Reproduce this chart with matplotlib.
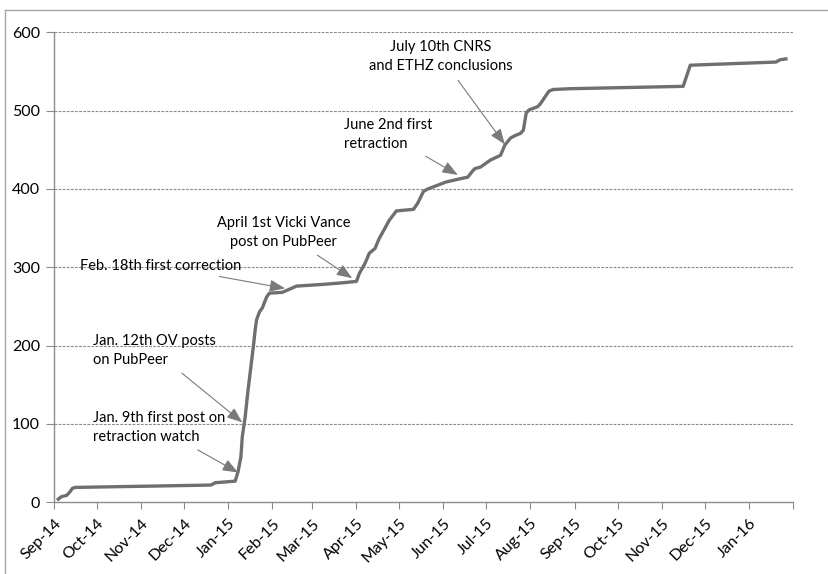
import matplotlib
matplotlib.use("Agg")
import matplotlib.pyplot as plt
from matplotlib.lines import Line2D
import numpy as np
from datetime import date

# cumulative count
dates = ["2014-09-04", "2014-09-06", "2014-09-10", "2014-09-12", "2014-09-14", "2014-09-16",
         "2014-12-20", "2014-12-23", "2015-01-06", "2015-01-08", "2015-01-10", "2015-01-11",
         "2015-01-13", "2015-01-15", "2015-01-17", "2015-01-19", "2015-01-20", "2015-01-21",
         "2015-01-23", "2015-01-25", "2015-01-28", "2015-01-30", "2015-02-08", "2015-02-18",
         "2015-03-07", "2015-03-21", "2015-04-01", "2015-04-03", "2015-04-07", "2015-04-10",
         "2015-04-14", "2015-04-17", "2015-04-21", "2015-04-24", "2015-04-29", "2015-05-11",
         "2015-05-14", "2015-05-18", "2015-05-21", "2015-06-03", "2015-06-15", "2015-06-18",
         "2015-06-21", "2015-06-23", "2015-06-27", "2015-07-04", "2015-07-11", "2015-07-14",
         "2015-07-18", "2015-07-21", "2015-07-25", "2015-07-27", "2015-07-29", "2015-07-31",
         "2015-08-06", "2015-08-08", "2015-08-14", "2015-08-17", "2015-08-29", "2015-11-16",
         "2015-11-21", "2016-01-20", "2016-01-23", "2016-01-27"]
counts = [4, 7, 9, 13, 18, 19,
          22, 25, 27, 39, 58, 84,
          109, 143, 173, 203, 220, 233,
          243, 248, 262, 267, 268, 276,
          278, 280, 282, 292, 305, 318,
          324, 337, 350, 360, 372, 374,
          382, 397, 400, 409, 414, 415,
          422, 426, 428, 437, 443, 456,
          465, 468, 471, 475, 497, 501,
          505, 509, 525, 527, 528, 531,
          558, 562, 565, 566]

# annotations: text, text position (date, value), arrow tip (date, value), alignment
notes = [
    ("July 10th CNRS\nand ETHZ conclusions", ("2015-05-30", 569), ("2015-07-14", 457), "center"),
    ("June 2nd first\nretraction", ("2015-03-23", 470), ("2015-06-11", 418), "left"),
    ("April 1st Vicki Vance\npost on PubPeer", ("2015-02-09", 344), ("2015-03-29", 286), "center"),
    ("Feb. 18th first correction", ("2014-09-19", 302), ("2015-02-10", 273), "left"),
    ("Jan. 12th OV posts\non PubPeer", ("2014-09-28", 194), ("2015-01-11", 102), "left"),
    ("Jan. 9th first post on\nretraction watch", ("2014-09-28", 95), ("2015-01-08", 38), "left"),
]

tick_dates = [date(2014, 9, 1), date(2014, 10, 1), date(2014, 11, 1), date(2014, 12, 1),
              date(2015, 1, 1), date(2015, 2, 1), date(2015, 3, 1), date(2015, 4, 1),
              date(2015, 5, 1), date(2015, 6, 1), date(2015, 7, 1), date(2015, 8, 1),
              date(2015, 9, 1), date(2015, 10, 1), date(2015, 11, 1), date(2015, 12, 1),
              date(2016, 1, 1), date(2016, 2, 1)]
tick_labels = ["Sep-14", "Oct-14", "Nov-14", "Dec-14", "Jan-15", "Feb-15", "Mar-15", "Apr-15",
               "May-15", "Jun-15", "Jul-15", "Aug-15", "Sep-15", "Oct-15", "Nov-15", "Dec-15",
               "Jan-16", ""]

plt.rcParams['font.family'] = ['Lato', 'DejaVu Sans']

fig = plt.figure(figsize=(8.29, 5.74), dpi=100)
ax = fig.add_axes([54/829, 1 - 502.3/574, (793 - 54)/829, (502.3 - 32.3)/574])

x = np.array(dates, dtype="datetime64[D]")
ax.plot(x, counts, color="#6f6f6f", lw=2.4, solid_joinstyle="round", zorder=3)

ax.set_xlim(np.datetime64("2014-09-01"), np.datetime64("2016-02-01"))
ax.set_ylim(0, 600)
ax.set_yticks([0, 100, 200, 300, 400, 500, 600])
ax.set_xticks(tick_dates)
ax.set_xticklabels(tick_labels, rotation=45, ha="right", rotation_mode="anchor", fontsize=11.5)
ax.tick_params(axis="y", labelsize=11.5, length=6, color="#8c8c8c", pad=4)
ax.tick_params(axis="x", length=5, color="#8c8c8c", pad=5)

for v in [100, 200, 300, 400, 500, 600]:
    ax.axhline(v, color="#8c8c8c", lw=0.8, ls=(0, (2.5, 1.2)), zorder=1)

for s in ["top", "right"]:
    ax.spines[s].set_visible(False)
for s in ["left", "bottom"]:
    ax.spines[s].set_color("#8c8c8c")
    ax.spines[s].set_linewidth(1.0)

for text, (td, tv), (ad, av), ha in notes:
    ax.annotate(text, xy=(np.datetime64(ad), av), xytext=(np.datetime64(td), tv),
                ha=ha, va="center", fontsize=10.5, linespacing=1.45,
                arrowprops=dict(arrowstyle="-|>,head_length=0.9,head_width=0.35",
                                color="#7a7a7a", lw=0.8, shrinkA=4, shrinkB=0))

# cropped chart frame (left and top edges only)
fig.add_artist(Line2D([5.5/829, 5.5/829], [0, 1 - 9.5/574], transform=fig.transFigure,
                      color="#a6a6a6", lw=1.0))
fig.add_artist(Line2D([5.5/829, 1], [1 - 9.5/574, 1 - 9.5/574], transform=fig.transFigure,
                      color="#a6a6a6", lw=1.0))

fig.savefig("out.png", dpi=100)
